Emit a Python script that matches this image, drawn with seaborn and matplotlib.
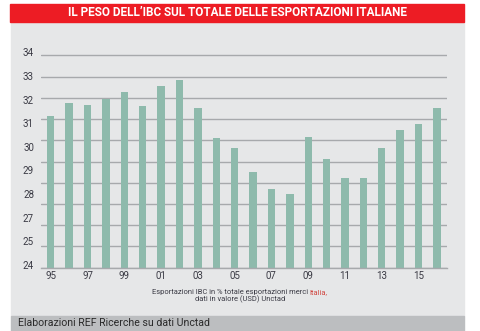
import matplotlib
matplotlib.use("Agg")
import matplotlib.pyplot as plt
import seaborn as sns
import numpy as np
import pandas as pd
from matplotlib.patches import Rectangle

# ---- data ----
years = ["95", "96", "97", "98", "99", "00", "01", "02", "03", "04", "05",
         "06", "07", "08", "09", "10", "11", "12", "13", "14", "15", "16"]
share = [31.15, 31.77, 31.66, 31.94, 32.28, 31.60, 32.56, 32.84, 31.52, 30.11, 29.62,
         28.49, 27.70, 27.45, 30.17, 29.14, 28.21, 28.21, 29.65, 30.49, 30.76, 31.51]
xtick_labels = ["95", "97", "99", "01", "03", "05", "07", "09", "11", "13", "15"]
ytick_labels = ["24", "25", "27", "28", "29", "30", "31", "32", "33", "34"]
title = "IL PESO DELL\u2019IBC SUL TOTALE DELLE ESPORTAZIONI ITALIANE"
caption1 = "Esportazioni IBC in % totale esportazioni merci"
caption1_red = "Italia,"
caption2 = "dati in valore (USD) Unctad"
footer = "Elaborazioni REF Ricerche su dati Unctad"

sns.set_theme(style="white")
plt.rcParams["font.family"] = ["Roboto", "DejaVu Sans"]

W, H = 480, 331
fig = plt.figure(figsize=(W / 100, H / 100), dpi=100)
fig.patch.set_facecolor("white")

def fx(px):
    return px / W

def fy(py):
    return 1 - py / H

# panel backgrounds (behind the axes)
fig.patches.append(Rectangle((fx(11), fy(316)), fx(453), (316 - 22) / H,
                             transform=fig.transFigure, color="#e6e7e8", zorder=-10))
fig.patches.append(Rectangle((fx(11), fy(331)), fx(453), 15 / H,
                             transform=fig.transFigure, color="#bcbec0", zorder=-10))
fig.patches.append(Rectangle((fx(10), fy(22)), fx(454), 18 / H,
                             transform=fig.transFigure, color="#ed1c24", zorder=-10))

fig.text(fx(237), fy(13), title, color="white", fontsize=8.5, fontweight="bold",
         ha="center", va="center")

ax = fig.add_axes([fx(41), fy(267.7), fx(446.7 - 41), (267.7 - 52.3) / H])
ax.set_facecolor("none")
ax.set_axisbelow(True)

df = pd.DataFrame({"year": years, "share": share})
sns.barplot(data=df, x="year", y="share", order=years, color="#8ebaac",
            saturation=1, width=0.4, linewidth=0, ax=ax)

ax.set_ylim(24, 34)
ax.set_xlim(-0.53, len(years) - 0.47)

# gridlines at integer values
ax.set_yticks(np.arange(24, 35), minor=True)
ax.grid(True, which="minor", axis="y", color="#a7a9ac", linewidth=1.0)
ax.grid(False, which="major")
ax.tick_params(axis="y", which="minor", length=0)

# labels as printed in the source
ax.set_yticks(np.linspace(24.13, 34.15, len(ytick_labels)))
ax.set_yticklabels(ytick_labels)
ax.tick_params(axis="y", which="major", length=0, pad=5, labelsize=7, labelcolor="#3a3a44")

ax.set_xticks(np.arange(0, len(years), 2))
ax.set_xticklabels(xtick_labels)
ax.tick_params(axis="x", length=0, pad=2.5, labelsize=7, labelcolor="#3a3a44")

ax.set_xlabel("")
ax.set_ylabel("")
for s in ["top", "right", "left"]:
    ax.spines[s].set_visible(False)
ax.spines["bottom"].set_color("#a7a9ac")
ax.spines["bottom"].set_linewidth(1.0)

# caption
fig.canvas.draw()
r = fig.canvas.get_renderer()
cfs = 5.45
gap = 1.6  # px between words
left_t = fig.text(0, fy(292), caption1, fontsize=cfs, color="#3a3a44",
                  ha="left", va="center")
red_t = fig.text(0, fy(292), caption1_red, fontsize=cfs, color="#d0453f",
                 ha="left", va="center")
w1 = left_t.get_window_extent(r).width
w2 = red_t.get_window_extent(r).width
x0 = 240 - (w1 + gap + w2) / 2
left_t.set_x(fx(x0))
red_t.set_x(fx(x0 + w1 + gap))
fig.text(fx(240), fy(299.5), caption2, fontsize=cfs, color="#3a3a44",
         ha="center", va="center")

fig.text(fx(18), fy(323.5), footer, fontsize=7.6, color="#2a2a2a",
         ha="left", va="center")

fig.savefig("out.png", dpi=100, facecolor="white")
